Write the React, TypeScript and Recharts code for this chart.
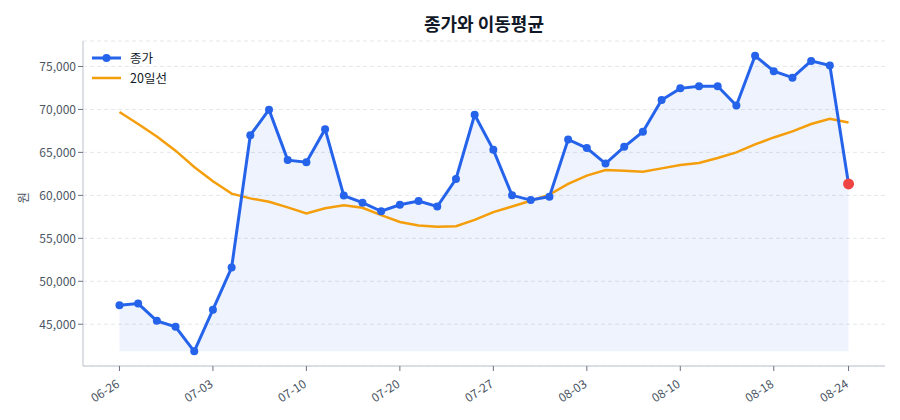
import { ComposedChart, Line, Area, XAxis, YAxis, CartesianGrid } from 'recharts';

const dates = [
  '06-26', '06-27', '06-30', '07-01', '07-02', '07-03', '07-04', '07-07', '07-08', '07-09',
  '07-10', '07-11', '07-14', '07-16', '07-17', '07-20', '07-21', '07-22', '07-23', '07-24',
  '07-27', '07-28', '07-29', '07-30', '07-31', '08-03', '08-04', '08-05', '08-06', '08-07',
  '08-10', '08-11', '08-12', '08-13', '08-14', '08-18', '08-19', '08-20', '08-21', '08-24',
];

const closePrices = [
  47200, 47400, 45400, 44700, 41850, 46700, 51600, 67000, 69970, 64100,
  63850, 67700, 59970, 59150, 58150, 58900, 59350, 58700, 61900, 69380,
  65300, 60000, 59450, 59850, 66500, 65500, 63700, 65650, 67400, 71100,
  72450, 72700, 72700, 70450, 76250, 74450, 73700, 75650, 75120, 61330,
];

const ma20 = [
  69700, 68300, 66850, 65200, 63300, 61650, 60200, 59650, 59250, 58600,
  57900, 58500, 58850, 58550, 57700, 56900, 56480, 56360, 56400, 57150,
  58050, 58700, 59380, 60080, 61330, 62290, 62950, 62870, 62760, 63140,
  63530, 63770, 64350, 65000, 65930, 66740, 67440, 68300, 68920, 68490,
];

const yTicks = [45000, 50000, 55000, 60000, 65000, 70000, 75000];
const xTickIdx = [0, 5, 10, 15, 20, 25, 30, 35, 39];

const data = dates.map((d, i) => ({ idx: i, date: d, close: closePrices[i], ma: ma20[i] }));
const minClose = Math.min(...closePrices);

const FONT = '"Noto Sans CJK KR", "Noto Sans", sans-serif';
const BLUE = '#2563eb';
const ORANGE = '#f59e0b';

const XTick = ({ x, y, payload }: any) => {
  const ax = x - 3;
  const ay = y + 7;
  return (
    <text
      x={ax}
      y={ay}
      transform={`rotate(-33, ${ax}, ${ay})`}
      textAnchor="end"
      dy="0.6em"
      fill="#4b5563"
      fontSize={12}
      fontFamily={FONT}
    >
      {dates[payload.value]}
    </text>
  );
};

const CloseDot = (props: any) => {
  const { cx, cy, index } = props;
  if (index === closePrices.length - 1) {
    return <circle key={index} cx={cx} cy={cy} r={5.5} fill="#ef4444" />;
  }
  return <circle key={index} cx={cx} cy={cy} r={4} fill={BLUE} />;
};

export default function App() {
  return (
    <div style={{ position: 'absolute', left: 0, top: 0, width: 900, height: 420, background: '#fff', fontFamily: FONT }}>
      <div
        style={{
          position: 'absolute',
          left: 284,
          width: 400,
          top: 9,
          textAlign: 'center',
          fontSize: 18,
          fontWeight: 700,
          color: '#111827',
          lineHeight: '28px',
        }}
      >
        종가와 이동평균
      </div>
      <ComposedChart width={900} height={420} data={data} margin={{ top: 41, right: 15, bottom: 0, left: 0 }}>
        <CartesianGrid vertical={false} stroke="#e5e7eb" strokeDasharray="4 3" />
        <XAxis
          dataKey="idx"
          type="number"
          domain={[-1.95, 40.95]}
          ticks={xTickIdx}
          interval={0}
          height={54}
          tick={<XTick />}
          tickSize={5}
          axisLine={{ stroke: '#d1d5db', strokeWidth: 1.5 }}
          tickLine={{ stroke: '#6b7280' }}
        />
        <YAxis
          width={83}
          type="number"
          domain={[40141, 77963]}
          ticks={yTicks}
          interval={0}
          allowDataOverflow
          tickFormatter={(v: number) => v.toLocaleString('en-US')}
          tick={{ fill: '#4b5563', fontSize: 12, fontFamily: FONT }}
          tickSize={5}
          axisLine={{ stroke: '#d1d5db', strokeWidth: 1.5 }}
          tickLine={{ stroke: '#6b7280' }}
          label={{ value: '원', angle: -90, position: 'insideLeft', offset: 24, fill: '#4b5563', fontSize: 12.5, fontFamily: FONT }}
        />
        <Area
          dataKey="close"
          baseValue={minClose}
          fill={BLUE}
          fillOpacity={0.08}
          stroke={BLUE}
          strokeOpacity={0.1}
          strokeWidth={1}
          isAnimationActive={false}
        />
        <Line
          dataKey="ma"
          stroke={ORANGE}
          strokeWidth={2.5}
          dot={false}
          activeDot={false}
          isAnimationActive={false}
        />
        <Line
          dataKey="close"
          stroke={BLUE}
          strokeWidth={3}
          dot={<CloseDot />}
          activeDot={false}
          isAnimationActive={false}
        />
      </ComposedChart>
      <div style={{ position: 'absolute', left: 91, top: 48, fontSize: 12.5, color: '#111827', lineHeight: '20px' }}>
        <div style={{ display: 'flex', alignItems: 'center' }}>
          <svg width={32} height={20}>
            <line x1={1} y1={10} x2={30} y2={10} stroke={BLUE} strokeWidth={3} />
            <circle cx={15.5} cy={10} r={4} fill={BLUE} />
          </svg>
          <span style={{ marginLeft: 7 }}>종가</span>
        </div>
        <div style={{ display: 'flex', alignItems: 'center' }}>
          <svg width={32} height={20}>
            <line x1={1} y1={10} x2={30} y2={10} stroke={ORANGE} strokeWidth={2.5} />
          </svg>
          <span style={{ marginLeft: 7 }}>20일선</span>
        </div>
      </div>
    </div>
  );
}
